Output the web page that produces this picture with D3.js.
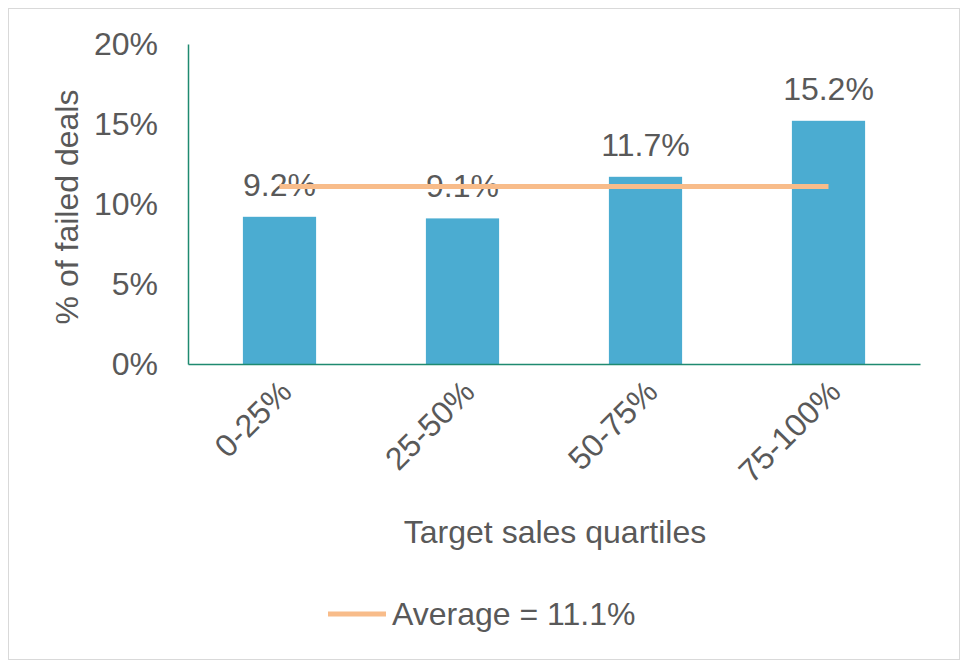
<!DOCTYPE html>
<html><head><meta charset="utf-8">
<script src="https://cdn.jsdelivr.net/npm/d3@7"></script>
<style>body{margin:0;background:#fff}text{font-family:Arial,"Liberation Sans",sans-serif;fill:#595959}</style>
</head><body><svg id="c" width="968" height="670"></svg>
<script>
const categories=["0-25%","25-50%","50-75%","75-100%"];
const values=[9.2,9.1,11.7,15.2];
const average=11.1;
const yTicks=[0,5,10,15,20];
const FS=32;
const svg=d3.select("#c");
svg.append("rect").attr("x",8.5).attr("y",8.5).attr("width",951).attr("height",651).attr("fill","none").attr("stroke","#d9d9d9");
const x=d3.scaleBand().domain(categories).range([188,920]).paddingInner(0.6).paddingOuter(0.3);
const y=d3.scaleLinear().domain([0,20]).range([364,44]);
const g=svg.append("g");
g.selectAll(".bar").data(values).join("rect").attr("x",(d,i)=>x(categories[i])).attr("y",d=>y(d)).attr("width",x.bandwidth()).attr("height",d=>y(0)-y(d)).attr("fill","#4bacd1");
g.selectAll(".vl").data(values).join("text").attr("x",(d,i)=>x(categories[i])+x.bandwidth()/2).attr("y",d=>y(d)-21).attr("text-anchor","middle").attr("font-size",FS).text(d=>d.toFixed(1)+"%");
const cx=c=>x(c)+x.bandwidth()/2;
g.append("line").attr("x1",cx(categories[0])).attr("x2",cx(categories[3])).attr("y1",y(average)).attr("y2",y(average)).attr("stroke","#f8bc8a").attr("stroke-width",5);
const ya=svg.append("g").attr("transform","translate(188,0)").call(d3.axisLeft(y).tickValues(yTicks).tickSize(0).tickPadding(30).tickFormat(d=>d+"%"));
ya.select(".domain").attr("stroke","#1f8a70").attr("stroke-width",1.5);
ya.selectAll("text").attr("font-size",FS).attr("fill","#595959");
const xa=svg.append("g").attr("transform","translate(0,364)").call(d3.axisBottom(x).tickSize(0).tickPadding(0));
xa.select(".domain").attr("stroke","#1f8a70").attr("stroke-width",1.5);
xa.selectAll("text").attr("font-size",FS).attr("fill","#595959").attr("text-anchor","end").attr("dy",0).attr("transform","translate(14,30) rotate(-45)");
svg.append("text").attr("x",555).attr("y",543).attr("text-anchor","middle").attr("font-size",FS).text("Target sales quartiles");
svg.append("text").attr("transform","translate(78,207) rotate(-90)").attr("text-anchor","middle").attr("font-size",FS).text("% of failed deals");
svg.append("line").attr("x1",328).attr("x2",386).attr("y1",614).attr("y2",614).attr("stroke","#f8bc8a").attr("stroke-width",5);
svg.append("text").attr("x",392).attr("y",625).attr("font-size",FS).text("Average = "+average+"%");
</script></body></html>
